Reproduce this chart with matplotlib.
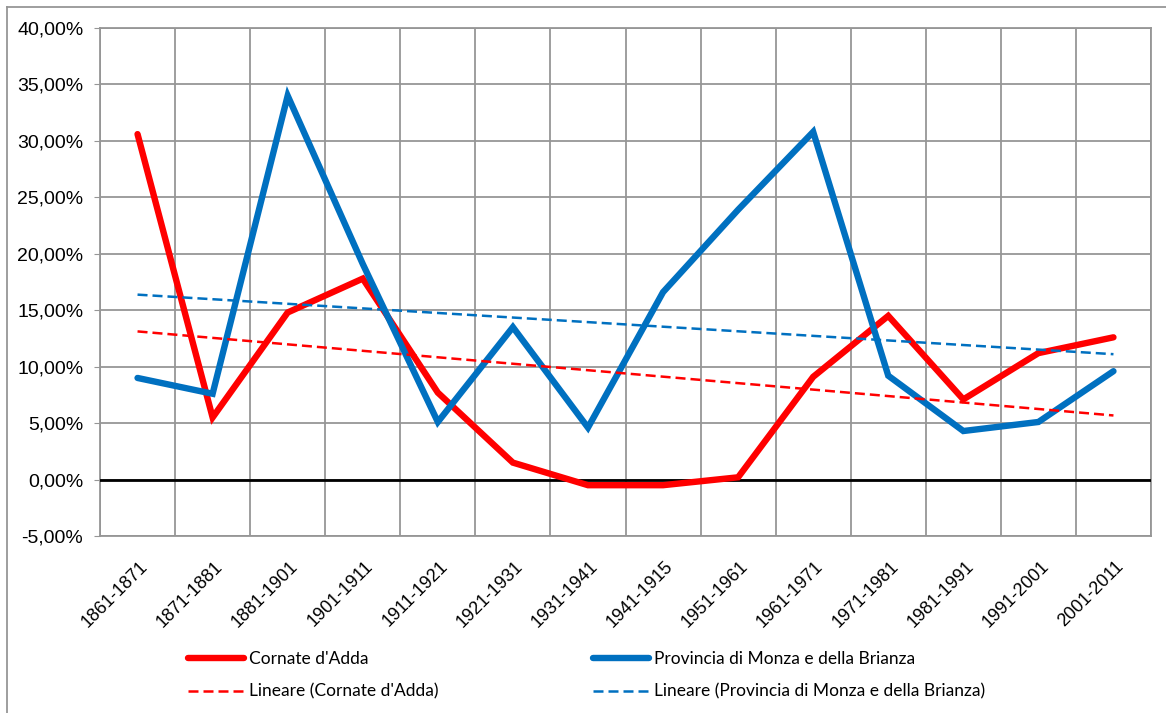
import numpy as np
import matplotlib.pyplot as plt
from matplotlib.lines import Line2D
from matplotlib.ticker import FuncFormatter, MultipleLocator

periodi = ["1861-1871", "1871-1881", "1881-1901", "1901-1911", "1911-1921",
           "1921-1931", "1931-1941", "1941-1915", "1951-1961", "1961-1971",
           "1971-1981", "1981-1991", "1991-2001", "2001-2011"]

# variazione percentuale della popolazione
cornate = [30.6, 5.5, 14.8, 17.8, 7.7, 1.5, -0.5, -0.5, 0.2, 9.1, 14.5, 7.1, 11.2, 12.6]
monza_brianza = [9.0, 7.6, 34.0, 19.1, 5.1, 13.5, 4.6, 16.6, 23.9, 30.8, 9.2, 4.3, 5.1, 9.6]

rosso = "#ff0000"
blu = "#0070c0"
tratteggio = (0, (4, 2))

x = np.arange(len(periodi))

fig = plt.figure(figsize=(11.66, 7.13), dpi=100)
ax = fig.add_axes([100 / 1166, 1 - 536 / 713, 1051 / 1166, 508 / 713])

ax.plot(x, cornate, color=rosso, lw=4.6, solid_joinstyle="miter", solid_capstyle="round", zorder=4)
ax.plot(x, monza_brianza, color=blu, lw=4.6, solid_joinstyle="miter", solid_capstyle="round", zorder=5)

# linee di tendenza lineari
for serie, col in [(cornate, rosso), (monza_brianza, blu)]:
    m, q = np.polyfit(x, serie, 1)
    ax.plot(x, m * x + q, color=col, lw=1.8, ls=tratteggio, zorder=6)

ax.axhline(0, color="black", lw=2, zorder=3)

ax.set_xlim(-0.5, len(periodi) - 0.5)
ax.set_ylim(-5, 40)
ax.yaxis.set_major_locator(MultipleLocator(5))
ax.yaxis.set_major_formatter(FuncFormatter(lambda v, p: f"{v:.2f}%".replace(".", ",")))

# griglia verticale sui confini delle categorie
ax.set_xticks(np.arange(len(periodi) + 1) - 0.5)
ax.set_xticklabels([])
ax.tick_params(axis="x", length=0)
ax.grid(True, color="#969696", lw=1.3, zorder=0)
for i, lab in enumerate(periodi):
    ax.annotate(lab, xy=(i, -5), xycoords="data", xytext=(5.5, -20), textcoords="offset points",
                rotation=45, rotation_mode="anchor", ha="right", va="center",
                fontsize=13, family="Liberation Sans")

ax.tick_params(axis="y", length=4, color="#969696", labelsize=14, pad=8)
for lab in ax.get_yticklabels():
    lab.set_family("Liberation Sans")
for s in ax.spines.values():
    s.set_color("#969696")
    s.set_linewidth(1.3)

# cornice esterna del grafico
fig.add_artist(Line2D([7 / 1166, 7 / 1166], [0, 1 - 7 / 713], transform=fig.transFigure,
                      color="#969696", lw=1.3))
fig.add_artist(Line2D([7 / 1166, 1], [1 - 7 / 713, 1 - 7 / 713], transform=fig.transFigure,
                      color="#969696", lw=1.3))

leg_font = {"family": "Lato", "size": 12.5}
h1 = [Line2D([], [], color=rosso, lw=4.6, solid_capstyle="round"),
      Line2D([], [], color=rosso, lw=1.8, ls=tratteggio)]
h2 = [Line2D([], [], color=blu, lw=4.6, solid_capstyle="round"),
      Line2D([], [], color=blu, lw=1.8, ls=tratteggio)]
for hs, labs, xpos in [(h1, ["Cornate d'Adda", "Lineare (Cornate d'Adda)"], 188),
                       (h2, ["Provincia di Monza e della Brianza",
                             "Lineare (Provincia di Monza e della Brianza)"], 593)]:
    fig.legend(hs, labs, loc="upper left", bbox_to_anchor=(xpos / 1166, 1 - 651 / 713),
               frameon=False, prop=leg_font, handlelength=3.2, handletextpad=0.3,
               labelspacing=0.95, borderpad=0, borderaxespad=0)

fig.savefig("out.png", dpi=100)
